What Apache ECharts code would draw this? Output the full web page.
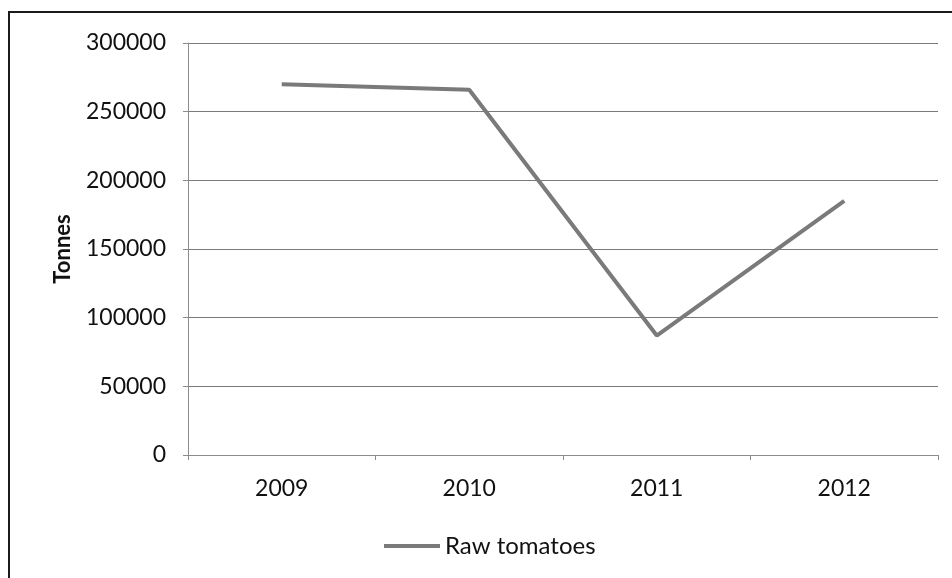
<!DOCTYPE html>
<html>
<head>
<meta charset="utf-8">
<script src="https://cdn.jsdelivr.net/npm/echarts@6/dist/echarts.min.js"></script>
<style>
  html, body { margin: 0; padding: 0; background: #fff; }
  #chart { width: 952px; height: 578px; }
</style>
</head>
<body>
<div id="chart"></div>
<script>
// Annual production of raw tomatoes
const years = ['2009', '2010', '2011', '2012'];
const rawTomatoes = [270000, 266000, 87000, 185000];
const yTicks = [0, 50000, 100000, 150000, 200000, 250000, 300000];

const chart = echarts.init(document.getElementById('chart'));
const font = 'Lato, "Noto Sans", sans-serif';

chart.setOption({
  backgroundColor: '#ffffff',
  animation: false,
  graphic: [{
    type: 'rect',
    shape: { x: 9, y: 12, width: 960, height: 600 },
    style: { fill: 'none', stroke: '#1a1a1a', lineWidth: 2 },
    silent: true
  }],
  grid: { left: 188, right: 14, top: 43, bottom: 123, containLabel: false },
  legend: {
    bottom: 15,
    left: 379,
    itemWidth: 56,
    itemHeight: 4,
    itemGap: 4,
    icon: 'rect',
    textStyle: { fontFamily: font, fontSize: 24, color: '#111', padding: [0, 0, 0, 0] },
    data: ['Raw tomatoes']
  },
  xAxis: {
    type: 'category',
    data: years,
    boundaryGap: true,
    axisLine: { show: true, lineStyle: { color: '#8c8c8c', width: 1 } },
    axisTick: { show: true, length: 5, inside: false, lineStyle: { color: '#8c8c8c' } },
    axisLabel: { fontFamily: font, fontSize: 23, color: '#111', margin: 22 }
  },
  yAxis: {
    type: 'value',
    min: yTicks[0],
    max: yTicks[yTicks.length - 1],
    interval: yTicks[1] - yTicks[0],
    name: 'Tonnes',
    nameLocation: 'middle',
    nameGap: 114,
    nameRotate: 90,
    nameTextStyle: { fontFamily: font, fontSize: 22, fontWeight: 'bold', color: '#111' },
    axisLine: { show: true, lineStyle: { color: '#8c8c8c', width: 1 } },
    axisTick: { show: true, length: 5, lineStyle: { color: '#8c8c8c' } },
    axisLabel: {
      fontFamily: font, fontSize: 23, color: '#111', margin: 22,
      formatter: (v) => String(v)
    },
    splitLine: { show: true, lineStyle: { color: '#7a7a7a', width: 1 } }
  },
  series: [{
    name: 'Raw tomatoes',
    type: 'line',
    data: rawTomatoes,
    symbol: 'none',
    lineStyle: { color: '#7a7a7a', width: 4 },
    itemStyle: { color: '#7a7a7a' }
  }]
});
</script>
</body>
</html>
